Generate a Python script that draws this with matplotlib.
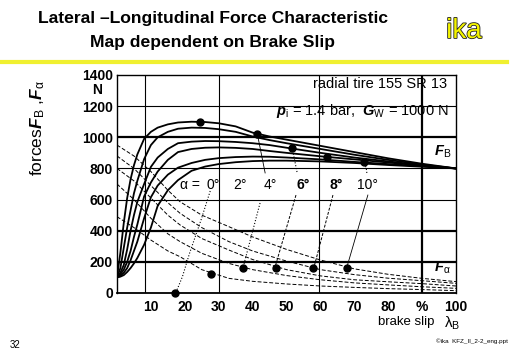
import matplotlib
matplotlib.use("Agg")
import matplotlib.pyplot as plt
import matplotlib.patheffects as pe

plt.rcParams['font.family'] = ['Liberation Sans', 'DejaVu Sans']
plt.rcParams['mathtext.fontset'] = 'custom'
plt.rcParams['mathtext.rm'] = 'Liberation Sans'
plt.rcParams['mathtext.it'] = 'Liberation Sans:italic'
plt.rcParams['mathtext.bf'] = 'Liberation Sans:italic:bold'

# ---------------- data ----------------
slip_B = [0, 1, 2, 3, 4, 5, 6, 8, 10, 12, 15, 18, 22, 26, 30, 35, 40, 45, 50, 60, 70, 80, 90, 100]
FB_a0  = [100, 260, 450, 610, 730, 820, 890, 990, 1035, 1062, 1083, 1095, 1100, 1098, 1090, 1070, 1030, 1005, 985, 945, 905, 865, 830, 800]
FB_a2  = [100, 160, 290, 420, 530, 640, 720, 860, 950, 1000, 1035, 1055, 1062, 1060, 1052, 1035, 1005, 982, 962, 925, 888, 855, 825, 800]
FB_a4  = [100, 130, 180, 280, 400, 500, 585, 700, 810, 870, 925, 962, 972, 976, 975, 970, 962, 950, 933, 900, 870, 845, 820, 800]
FB_a6  = [100, 120, 150, 200, 270, 360, 440, 620, 710, 780, 855, 905, 925, 933, 935, 932, 925, 912, 900, 878, 858, 838, 818, 800]
FB_a8  = [100, 110, 130, 160, 210, 270, 330, 480, 615, 690, 760, 805, 835, 855, 866, 873, 876, 875, 870, 858, 842, 828, 814, 800]
FB_a10 = [100, 105, 115, 135, 160, 190, 225, 310, 420, 560, 660, 725, 785, 812, 828, 840, 847, 850, 850, 845, 835, 822, 811, 800]

slip_A = [0, 5, 10, 15, 18.6, 25, 33, 40, 50, 60, 70, 80, 90, 100]
FA_a2  = [490, 420, 340, 270, 233, 150, 94, 75, 58, 45, 36, 28, 22, 15]
FA_a4  = [700, 600, 480, 380, 330, 255, 190, 150, 112, 85, 65, 52, 40, 30]
FA_a6  = [800, 720, 610, 500, 437, 350, 276, 215, 150, 110, 85, 72, 60, 45]
FA_a8  = [880, 800, 690, 580, 512, 420, 330, 270, 205, 150, 118, 95, 79, 62]
FA_a10 = [950, 880, 780, 660, 586, 500, 426, 360, 280, 212, 155, 120, 94, 73]

dots_B_x = [24.5, 41.4, 51.7, 61.8, 72.9]
dots_B_y = [1096, 1021, 929, 875, 839]
dots_A_x = [17.1, 27.6, 37.2, 46.8, 57.9, 67.7]
dots_A_y = [0, 122, 162, 162, 162, 162]

alpha_labels = ["0°", "2°", "4°", "6°", "8°", "10°"]
alpha_label_x = [28.3, 36.3, 45.1, 54.9, 64.6, 74.0]
alpha_label_bold = [False, False, False, True, True, False]

xticks = [10, 20, 30, 40, 50, 60, 70, 80, 90, 100]
xticklabels = ["10", "20", "30", "40", "50", "60", "70", "80", "%", "100"]
yticks = [0, 200, 400, 600, 800, 1000, 1200, 1400]

# connector lines (label -> point)
conn = [
    ([27.5, 24.8, 21.4, 19.3, 17.6], [655, 470, 255, 105, 15], ':', 0.8),
    ([43.7, 41.4], [771, 1021], '-', 0.6),
    ([42.2, 37.2], [578, 165], ':', 0.8),
    ([53.1, 51.7], [777, 929], ':', 0.8),
    ([52.8, 46.6], [629, 165], (0, (3, 1.5)), 0.7),
    ([63.7, 58.1], [629, 165], (0, (3, 1.5)), 0.7),
    ([73.7, 73.5, 72.9], [771, 805, 837], ':', 0.8),
    ([74.0, 67.8], [629, 165], '-', 0.6),
]

# ---------------- figure ----------------
fig = plt.figure(figsize=(5.12, 3.54), dpi=100)
fig.patch.set_facecolor('white')
ax = fig.add_axes([117/512, 1-293/354, (456-117)/512, (293-75)/354])
ax.set_xlim(0, 100)
ax.set_ylim(0, 1400)

# grid
thin_h = [600, 800, 1200]
thick_h = [200, 400, 1000]
for y in thin_h:
    ax.axhline(y, color='black', lw=0.8, zorder=1)
for y in thick_h:
    ax.axhline(y, color='black', lw=1.6, zorder=1)
for x in [8.3, 30, 59.6]:
    ax.axvline(x, color='black', lw=0.8, zorder=1)
ax.axvline(90, color='black', lw=1.6, zorder=1)

for s in ax.spines.values():
    s.set_linewidth(1.0)
ax.spines['bottom'].set_linewidth(1.3)

# F_B curves
for ys in [FB_a0, FB_a2, FB_a4, FB_a6, FB_a8, FB_a10]:
    ax.plot(slip_B, ys, color='black', lw=1.3, zorder=3, solid_capstyle='round')
# F_alpha curves
for ys in [FA_a2, FA_a4, FA_a6, FA_a8, FA_a10]:
    ax.plot(slip_A, ys, color='black', lw=0.7, ls=(0, (4, 2)), zorder=3)

for xs, ys, ls, lw in conn:
    ax.plot(xs, ys, color='black', lw=lw, ls=ls, zorder=3)

ax.plot(dots_B_x, dots_B_y, 'o', color='black', ms=5, zorder=5, clip_on=False)
ax.plot(dots_A_x, dots_A_y, 'o', color='black', ms=5, zorder=5, clip_on=False)

# ticks
ax.tick_params(length=0)
ax.set_yticks(yticks)
ax.set_yticklabels([str(v) for v in yticks], fontsize=10, fontweight='bold')
ax.tick_params(axis='y', pad=3)
ax.set_xticks(xticks)
ax.set_xticklabels(xticklabels, fontsize=10, fontweight='bold')
ax.tick_params(axis='x', pad=5)
ax.text(-6.0, 1305, "N", fontsize=10, fontweight='bold', ha='center', va='center')

# labels inside
ax.text(21.5, 694, "\u03b1 =", fontsize=10, ha='center', va='center')
for lab, xx, b in zip(alpha_labels, alpha_label_x, alpha_label_bold):
    ax.text(xx, 694, lab, fontsize=10, ha='center', va='center',
            fontweight='bold' if b else 'normal')
ax.text(97.3, 1340, "radial tire 155 SR 13", fontsize=10.5, ha='right', va='center')
ax.text(97.8, 1172, r"$\mathbf{p}_{\mathrm{i}}$ = 1.4 bar,  $\mathbf{G}_{\mathrm{W}}$ = 1000 N",
        fontsize=10.5, ha='right', va='center')
ax.text(98.5, 905, r"$\mathbf{F}_{\mathrm{B}}$", fontsize=10.5, ha='right', va='center')
ax.text(98.5, 160, r"$\mathbf{F}_{\mathrm{\alpha}}$", fontsize=10.5, ha='right', va='center')

# axis labels
fig.text(406/512, 1-322/354, "brake slip", fontsize=9.5, ha='center', va='center')
fig.text(444/512, 1-315/354, r"$\mathrm{\lambda}_{\mathrm{B}}$", fontsize=11, ha='left', va='top')
fig.text(38/512, 1-128/354, r"forces$\mathbf{F}_{\mathrm{B}}$ ,$\mathbf{F}_{\mathrm{\alpha}}$",
         fontsize=12.5, rotation=90, ha='center', va='center')

# title and decorations
fig.text(213/512, 1-19/354, "Lateral \u2013Longitudinal Force Characteristic",
         fontsize=12.6, fontweight='bold', ha='center', va='center')
fig.text(213/512, 1-42/354, "Map dependent on Brake Slip",
         fontsize=12.6, fontweight='bold', ha='center', va='center')
t = fig.text(464/512, 1-31/354, "ika", fontsize=20, color='#f4f400', ha='center', va='center')
t.set_path_effects([pe.Stroke(linewidth=1.2, foreground='#222222'), pe.Normal()])
fig.add_artist(plt.Line2D([0.0, 0.99], [1-62/354, 1-62/354], transform=fig.transFigure,
                          color='#f0f030', lw=3))
fig.text(10/512, 1-345/354, "32", fontsize=7, ha='left', va='center')
fig.text(436/512, 1-341/354, "\u00a9ika  KFZ_II_2-2_eng.ppt", fontsize=4.5, ha='left', va='center')

fig.savefig("out.png", dpi=100, facecolor='white')
